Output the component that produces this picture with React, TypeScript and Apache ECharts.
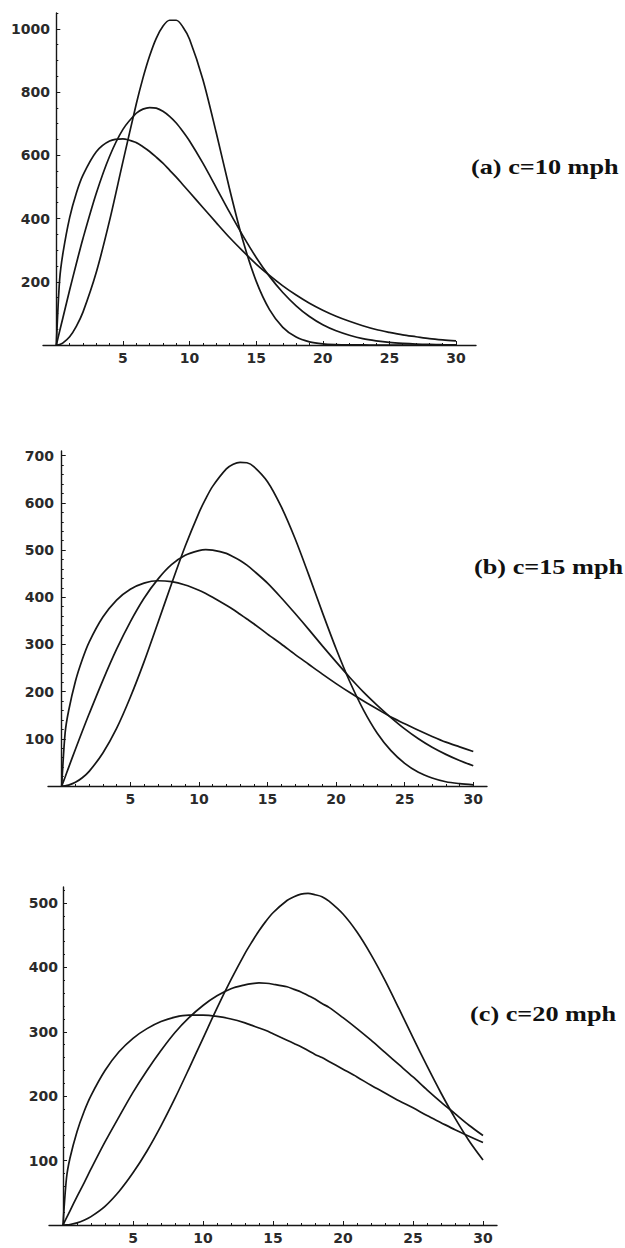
import { useEffect, useRef } from "react";
import * as echarts from "echarts";

// wind speed (mph) sample points, per panel
const speedsA = [0, 0.25, 0.5, 1, 1.5, 2, 3, 4, 5, 6, 6.5, 7, 7.5, 8, 8.5, 9, 9.5, 10, 11, 12, 13, 14, 15, 16, 17, 18, 19, 20, 21, 22, 23, 24, 25, 26, 27, 28, 29, 30];
const speedsB = [0, 0.25, 0.5, 1, 1.5, 2, 3, 4, 5, 6, 7, 8, 9, 10, 10.5, 11, 12, 12.5, 13, 13.5, 14, 15, 16, 17, 18, 19, 20, 21, 22, 23, 24, 25, 26, 27, 28, 29, 30];
const speedsC = [0, 0.25, 0.5, 1, 1.5, 2, 3, 4, 5, 6, 7, 8, 9, 10, 11, 12, 13, 13.5, 14, 14.5, 15, 16, 16.5, 17, 17.5, 18, 18.5, 19, 20, 21, 22, 23, 24, 25, 26, 27, 28, 29, 30];

// (a) c = 10 mph : hours per year per mph
const aK15 = [0, 207, 291, 403, 480, 537, 611, 645, 652, 640, 627, 612, 594, 575, 553, 531, 507, 483, 435, 387, 340, 297, 256, 220, 187, 158, 132, 110, 91, 75, 61, 49, 40, 32, 26, 20, 16, 13];
const aK2 = [0, 44, 87, 174, 257, 337, 480, 597, 682, 733, 746, 751, 749, 739, 723, 702, 675, 645, 575, 498, 420, 346, 277, 217, 166, 124, 90, 64, 45, 31, 20, 13, 8, 5, 3, 2, 1, 0.7];
const aK3 = [0, 1.6, 6.6, 26, 59, 104, 230, 394, 580, 762, 844, 914, 970, 1008, 1027, 1027, 1006, 967, 840, 672, 494, 331, 202, 112, 56, 25, 10, 3.5, 1.1, 0.3, 0.1, 0, 0, 0, 0, 0, 0, 0];

// (b) c = 15 mph
const bK15 = [0, 113, 159, 222, 268, 305, 358, 394, 417, 430, 435, 433, 426, 415, 408, 400, 383, 374, 364, 354, 344, 322, 301, 279, 258, 237, 217, 198, 180, 163, 146, 132, 118, 105, 93, 83, 73];
const bK2 = [0, 19, 39, 78, 116, 153, 224, 290, 348, 398, 438, 469, 489, 499, 501, 500, 493, 486, 478, 468, 456, 430, 399, 366, 332, 297, 263, 230, 199, 171, 145, 121, 100, 82, 67, 54, 43];
const bK3 = [0, 0.5, 1.9, 7.8, 17.5, 31, 70, 122, 188, 263, 345, 428, 508, 579, 609, 635, 672, 682, 686, 685, 677, 645, 592, 525, 448, 368, 291, 221, 161, 112, 75, 48, 29, 17, 9, 5, 2.4];

// (c) c = 20 mph
const cK15 = [0, 73, 104, 145, 176, 201, 240, 269, 290, 305, 316, 323, 326, 326, 324, 320, 314, 310, 306, 302, 297, 287, 282, 277, 271, 265, 260, 254, 242, 230, 217, 205, 193, 182, 170, 159, 148, 138, 128];
const cK2 = [0, 11, 22, 44, 65, 87, 129, 168, 206, 240, 271, 299, 322, 341, 356, 367, 373, 375, 376, 375.5, 374, 370, 366, 362, 356.5, 351, 344, 338, 322, 305, 287, 268, 249, 230, 210, 191, 173, 155, 139];
const cK3 = [0, 0.2, 0.8, 3.3, 7.4, 13, 29, 52, 81, 115, 154, 197, 243, 290, 337, 381, 422, 440, 457, 472, 485, 504, 510, 514, 515, 513, 510, 503, 483, 455, 420, 380, 336, 291, 247, 205, 166, 131, 101];

// tick labels
const xTicks = [5, 10, 15, 20, 25, 30];
const yTicksA = [200, 400, 600, 800, 1000];
const yTicksB = [100, 200, 300, 400, 500, 600, 700];
const yTicksC = [100, 200, 300, 400, 500];

const titles = ["(a) c=10 mph", "(b) c=15 mph", "(c) c=20 mph"];

function steps(from: number, to: number, step: number): number[] {
  const out: number[] = [];
  for (let v = from; v <= to + 1e-9; v += step) out.push(Math.round(v * 1000) / 1000);
  return out;
}

const panels = [
  { grid: { left: 43, top: 13, width: 433, height: 332 }, xMin: -1, xMax: 31.5, yMax: 1050, yTicks: yTicksA, yMinor: 50, yLabelMargin: -7, speeds: speedsA, series: [aK15, aK2, aK3], title: titles[0], tx: 471, ty: 167 },
  { grid: { left: 48, top: 451, width: 439, height: 335 }, xMin: -1, xMax: 31, yMax: 710, yTicks: yTicksB, yMinor: 20, yLabelMargin: -6, speeds: speedsB, series: [bK15, bK2, bK3], title: titles[1], tx: 474, ty: 567 },
  { grid: { left: 49, top: 887, width: 448, height: 338 }, xMin: -1, xMax: 31, yMax: 525, yTicks: yTicksC, yMinor: 20, yLabelMargin: -9, speeds: speedsC, series: [cK15, cK2, cK3], title: titles[2], tx: 470, ty: 1014 },
];

const INK = "#161616";
const labelStyle = {
  fontSize: 14, fontWeight: "bold" as const, fontFamily: "DejaVu Sans", color: "#2a2a2a",
  formatter: (v: number) => String(v),
};

export default function App() {
  const ref = useRef<HTMLDivElement>(null);
  useEffect(() => {
    if (!ref.current) return;
    const chart = echarts.init(ref.current, undefined, { renderer: "svg" });
    const grids: any[] = [];
    const xAxes: any[] = [];
    const yAxes: any[] = [];
    const series: any[] = [];
    const graphics: any[] = [];
    panels.forEach((p, i) => {
      grids.push({ ...p.grid, containLabel: false });
      xAxes.push({
        type: "value", gridIndex: i, min: p.xMin, max: p.xMax, position: "bottom",
        axisLine: { show: true, onZero: true, lineStyle: { color: INK, width: 1.4 } },
        axisTick: { show: true, inside: true, length: 4, customValues: xTicks, lineStyle: { color: INK, width: 1 } },
        axisLabel: { show: true, customValues: xTicks, margin: 6, ...labelStyle },
        splitLine: { show: false },
      });
      xAxes.push({
        type: "value", gridIndex: i, min: p.xMin, max: p.xMax, position: "bottom",
        axisLine: { show: false },
        axisTick: { show: true, inside: true, length: 2, customValues: steps(1, 30, 1), lineStyle: { color: INK, width: 1 } },
        axisLabel: { show: false },
        splitLine: { show: false },
      });
      yAxes.push({
        type: "value", gridIndex: i, min: 0, max: p.yMax, position: "left",
        axisLine: { show: true, onZero: true, onZeroAxisIndex: 2 * i, lineStyle: { color: INK, width: 1.4 } },
        axisTick: { show: true, inside: true, length: 4, customValues: p.yTicks, lineStyle: { color: INK, width: 1 } },
        axisLabel: { show: true, customValues: p.yTicks, margin: p.yLabelMargin, ...labelStyle },
        splitLine: { show: false },
      });
      yAxes.push({
        type: "value", gridIndex: i, min: 0, max: p.yMax, position: "left",
        axisLine: { show: false, onZero: true, onZeroAxisIndex: 2 * i },
        axisTick: { show: true, inside: true, length: 2, customValues: steps(p.yMinor, p.yMax, p.yMinor), lineStyle: { color: INK, width: 1 } },
        axisLabel: { show: false },
        splitLine: { show: false },
      });
      p.series.forEach((vals) => {
        series.push({
          type: "line", xAxisIndex: 2 * i, yAxisIndex: 2 * i,
          data: p.speeds.map((s, j) => [s, vals[j]]),
          showSymbol: false, symbol: "none", smooth: 0.3, silent: true,
          lineStyle: { color: INK, width: 1.7 },
        });
      });
      graphics.push({
        type: "text", x: p.tx, y: p.ty, scaleX: 1.25, scaleY: 1,
        style: {
          text: p.title, fontFamily: "Liberation Serif", fontSize: 21, fontWeight: "bold",
          fill: "#111", align: "left", verticalAlign: "middle",
        },
      });
    });
    chart.setOption({
      animation: false,
      backgroundColor: "#ffffff",
      grid: grids,
      xAxis: xAxes,
      yAxis: yAxes,
      series,
      graphic: graphics,
    });
    return () => chart.dispose();
  }, []);
  return <div ref={ref} style={{ position: "absolute", left: 0, top: 0, width: 625, height: 1248, background: "#fff" }} />;
}
